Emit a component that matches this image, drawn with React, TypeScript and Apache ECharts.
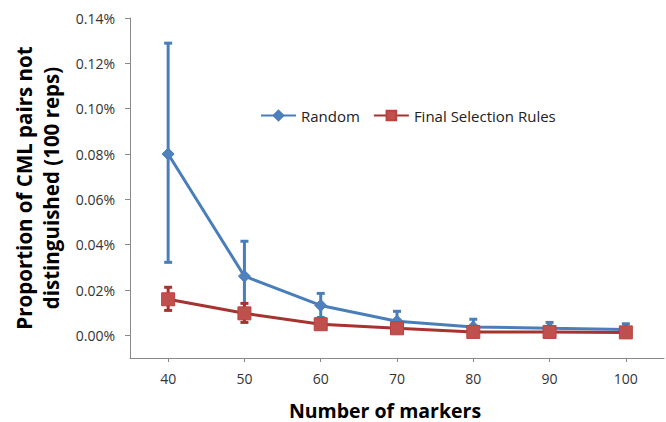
import React, { useEffect, useRef } from "react";
import * as echarts from "echarts";

const markers = [40, 50, 60, 70, 80, 90, 100];
const randomMean = [0.00080, 0.000261, 0.000132, 0.000062, 0.000037, 0.000031, 0.000026];
const randomLow = [0.000322, 0.000107, 0.000079, 0.000018, 0.000003, 0.000005, 0.000001];
const randomHigh = [0.001289, 0.000415, 0.000185, 0.000106, 0.000071, 0.000057, 0.000051];
const finalMean = [0.000159, 0.000097, 0.000049, 0.000031, 0.000015, 0.000015, 0.000013];
const finalLow = [0.00011, 0.000057, 0.000036, 0.000022, 0.000008, 0.000008, 0.000007];
const finalHigh = [0.000212, 0.000141, 0.000062, 0.00004, 0.000022, 0.000022, 0.000019];
const yTicks = [0, 0.0002, 0.0004, 0.0006, 0.0008, 0.001, 0.0012, 0.0014];

const BLUE = "#4A7EBB";
const BLUE_M = "#4F81BD";
const RED_L = "#A5332F";
const RED_M = "#C0504D";
const FONT = "Open Sans";

function errorSeries(low: number[], high: number[], color: string, capHalf: number) {
  return {
    type: "custom",
    silent: true,
    data: markers.map((m, i) => [m, low[i], high[i]]),
    encode: { x: 0, y: [1, 2] },
    renderItem: (params: any, api: any) => {
      const x = api.value(0);
      const lo = api.coord([x, api.value(1)]);
      const hi = api.coord([x, api.value(2)]);
      const style = { stroke: color, lineWidth: 3 };
      return {
        type: "group",
        children: [
          { type: "line", shape: { x1: lo[0], y1: lo[1], x2: hi[0], y2: hi[1] }, style },
          { type: "line", shape: { x1: hi[0] - capHalf, y1: hi[1], x2: hi[0] + capHalf, y2: hi[1] }, style },
          { type: "line", shape: { x1: lo[0] - capHalf, y1: lo[1], x2: lo[0] + capHalf, y2: lo[1] }, style },
        ],
      };
    },
    z: 1,
  };
}

export default function App() {
  const ref = useRef<HTMLDivElement>(null);
  useEffect(() => {
    if (!ref.current) return;
    const chart = echarts.init(ref.current, undefined, { renderer: "svg" });
    chart.setOption({
      animation: false,
      backgroundColor: "#ffffff",
      textStyle: { fontFamily: FONT },
      grid: { left: 130, top: 18, right: 2, bottom: 64, outerBoundsMode: "none", containLabel: false },
      legend: {
        data: ["Random", "Final Selection Rules"],
        left: 260,
        top: 108,
        padding: 0,
        itemWidth: 35,
        itemHeight: 12,
        itemGap: 13,
        textStyle: { fontFamily: FONT, fontSize: 15, color: "#222" },
      },
      xAxis: {
        type: "value",
        min: 35,
        max: 105,
        splitLine: { show: false },
        axisLine: { onZero: false, lineStyle: { color: "#888", width: 1 } },
        axisTick: { customValues: markers, length: 4, lineStyle: { color: "#888" } },
        axisLabel: { customValues: markers, fontSize: 14, color: "#333", margin: 13, fontFamily: FONT },
        name: "Number of markers",
        nameLocation: "middle",
        nameGap: 42,
        nameTextStyle: {
          fontSize: 19.5,
          lineHeight: 20,
          fontWeight: "bold",
          color: "#000",
          fontFamily: FONT,
          padding: [0, 24, 0, 0],
        },
      },
      yAxis: {
        type: "value",
        min: -0.0001,
        max: 0.0014,
        splitLine: { show: false },
        axisLine: { show: true, onZero: false, lineStyle: { color: "#888", width: 1 } },
        axisTick: { show: true, customValues: yTicks, length: 5, lineStyle: { color: "#888" } },
        axisLabel: {
          customValues: yTicks,
          fontSize: 14,
          color: "#333",
          margin: 15,
          fontFamily: FONT,
          formatter: (v: number) => (v * 100).toFixed(2) + "%",
        },
        name: "Proportion of CML pairs not\ndistinguished (100 reps)",
        nameLocation: "middle",
        nameGap: 65,
        nameRotate: 90,
        nameTextStyle: { fontSize: 20.5, fontWeight: "bold", color: "#000", fontFamily: FONT, lineHeight: 27 },
      },
      series: [
        errorSeries(randomLow, randomHigh, BLUE, 4),
        {
          name: "Random",
          type: "line",
          data: markers.map((m, i) => [m, randomMean[i]]),
          symbol: "diamond",
          symbolSize: 12,
          lineStyle: { color: BLUE, width: 3 },
          itemStyle: { color: BLUE_M, borderColor: BLUE, borderWidth: 1 },
          z: 2,
        },
        errorSeries(finalLow, finalHigh, RED_L, 4),
        {
          name: "Final Selection Rules",
          type: "line",
          data: markers.map((m, i) => [m, finalMean[i]]),
          symbol: "rect",
          symbolSize: 13,
          lineStyle: { color: RED_L, width: 3 },
          itemStyle: { color: RED_M, borderColor: "#B8433F", borderWidth: 1 },
          z: 4,
        },
      ],
    });
    return () => chart.dispose();
  }, []);
  return <div ref={ref} style={{ width: 666, height: 422, position: "absolute", left: 0, top: 0 }} />;
}
